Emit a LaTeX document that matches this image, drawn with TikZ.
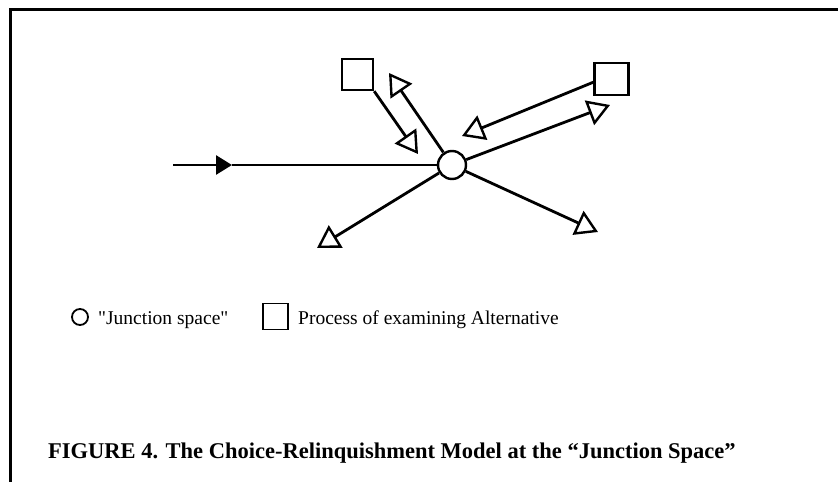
\documentclass[tikz,border=0pt]{standalone}
\usepackage{fontspec}
\setmainfont{Liberation Serif}
\newfontfamily\legendfont[Ligatures=TeXOff]{Liberation Serif}
\usetikzlibrary{arrows.meta}
\begin{document}
\begin{tikzpicture}[x=1pt,y=-1pt,
  ln/.style={line width=2.8pt},
  junction/.style={circle, draw, line width=2.4pt, minimum size=28pt, inner sep=0pt},
  altbox/.style={rectangle, draw, line width=2.4pt, inner sep=0pt},
  opentip/.style={-{Triangle[open,length=22pt,width=26pt,line width=2.4pt]}},
  filltip/.style={-{Triangle[length=16pt,width=19pt]}},
  legtext/.style={anchor=base west, inner sep=0pt, font=\legendfont\fontsize{19.5}{23}\selectfont},
  captext/.style={anchor=base west, inner sep=0pt, font=\fontsize{22.5}{27}\selectfont\bfseries}]
\useasboundingbox (0,0) rectangle (838,482);
\fill[white] (0,0) rectangle (838,482);

% frame: top rule and left rule
\draw[line width=3pt] (838,9) -- (10.5,9) -- (10.5,482);

% junction space and the two alternatives under examination
\node[junction] (jc) at (452,165) {};
\node[altbox, minimum width=31pt, minimum height=31pt] (sqL) at (357.5,74.5) {};
\node[altbox, minimum width=34pt, minimum height=32pt] (sqR) at (611.5,79) {};

% incoming path
\coordinate (in) at (173,165);
\coordinate (am) at (232,165);
\draw[ln, filltip] (in) -- (am);
\draw[ln] (am) -- (jc);

% arrow tips
\coordinate (t1) at (418,154);
\coordinate (t2) at (389,73);
\coordinate (t3) at (462,136);
\coordinate (t4) at (610,105);
\coordinate (t5) at (317,248);
\coordinate (t6) at (598,232);

\draw[ln, opentip] (sqL.south east) -- (t1);
\draw[ln, opentip] (jc) -- (t2);
\draw[ln, opentip] (sqR.190) -- (t3);
\draw[ln, opentip] (jc) -- (t4);
\draw[ln, opentip] (jc) -- (t5);
\draw[ln, opentip] (jc) -- (t6);

% legend
\node[circle, draw, line width=1.8pt, minimum size=16pt, inner sep=0pt] (lc) at (80,317) {};
\node[legtext] (lct) at (98,324) {"Junction space"};
\node[altbox, line width=1.8pt, minimum width=25pt, minimum height=26pt] (ls) at (275.5,316.5) {};
\node[legtext] (lst) at (298,324) {Process of examining Alternative};

% caption
\node[captext] (cap) at (48,458) {FIGURE 4. The Choice-Relinquishment Model at the “Junction Space”};
\end{tikzpicture}
\end{document}
